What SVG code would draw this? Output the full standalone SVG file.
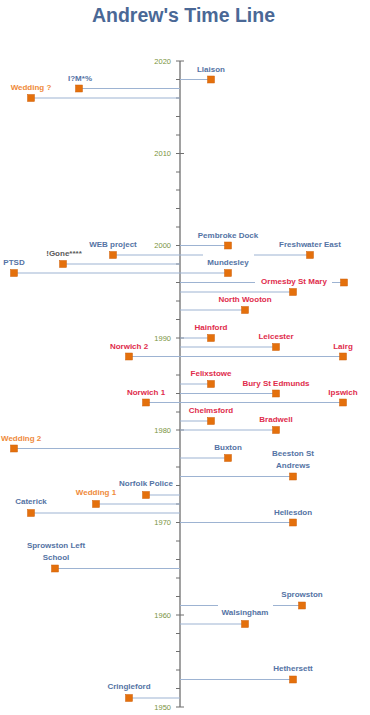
<svg xmlns="http://www.w3.org/2000/svg" width="370" height="715" viewBox="0 0 370 715">
<style>
.title{font-family:"Liberation Sans",Arial,sans-serif;font-weight:bold;font-size:19.5px;fill:#4a6896;text-anchor:middle}
.yr{font-family:"Liberation Sans",Arial,sans-serif;font-size:7.5px;fill:#7a9440;text-anchor:end}
.lb{font-family:"Liberation Sans",Arial,sans-serif;font-weight:bold;font-size:8px;text-anchor:middle}
.b{fill:#5473a4}.r{fill:#e02c4c}.o{fill:#ef8a3a}.g{fill:#5a5a5a}
.mk{fill:#e4700c;stroke:#d0600a;stroke-width:0.5}
.cn{stroke:#9db3d2;stroke-width:1;fill:none}
.ax{stroke:#6f6f6f;stroke-width:1.3;fill:none}
.tk{stroke:#6f6f6f;stroke-width:1;fill:none}
.bg{fill:#ffffff}
</style>
<rect width="370" height="715" fill="#ffffff"/>
<text class="title" x="183.5" y="22">Andrew's Time Line</text>

<g id="axis">
<line class="ax" x1="180" y1="61" x2="180" y2="707"/>
<path class="tk" d="M176 61H184M176 153.5H184M176 245.5H184M176 338H184M176 430H184M176 522.5H184M176 615H184M176 707H184"/>
<path class="tk" d="M176 79.5H180M176 98H180M176 116.5H180M176 135H180M176 172H180M176 190H180M176 208.5H180M176 227H180M176 264H180M176 282.5H180M176 301H180M176 319.5H180M176 356.5H180M176 375H180M176 393.5H180M176 412H180M176 448.5H180M176 467H180M176 485.5H180M176 504H180M176 541H180M176 559.5H180M176 578H180M176 596.5H180M176 633.5H180M176 651.5H180M176 670H180M176 688.5H180"/>
<text class="yr" x="171" y="63.5">2020</text>
<text class="yr" x="171" y="156">2010</text>
<text class="yr" x="171" y="248">2000</text>
<text class="yr" x="171" y="340.5">1990</text>
<text class="yr" x="171" y="432.5">1980</text>
<text class="yr" x="171" y="525">1970</text>
<text class="yr" x="171" y="617.5">1960</text>
<text class="yr" x="171" y="709.5">1950</text>
</g>

<g id="connectors">
<path class="cn" d="M180 79.5H211M180 88.5H79M180 98H31M180 245.5H228M180 255H113M180 255H310M180 264H63M180 273H14M180 273H228M180 282.5H344M180 292H293M180 310H245M180 338H211M180 347H276M180 356.5H343M180 356.5H129M180 384H211M180 393.5H276M180 402.5H343M180 402.5H146M180 421H211M180 430H276M180 448.5H14M180 458H228M180 476.5H293M180 495H146M180 504H96M180 513H31M180 522.5H293M180 568.5H55M180 605.5H302M180 624H245M180 679.5H293M180 698H129"/>
</g>

<g id="n-llaison"><rect class="mk" x="207.5" y="76" width="7" height="7"/><text class="lb b" x="211" y="71.5">Llaison</text></g>
<g id="n-imx"><rect class="mk" x="75.5" y="85" width="7" height="7"/><text class="lb b" x="80" y="80.5">I?M*%</text></g>
<g id="n-wedding-q"><rect class="mk" x="27.5" y="94.5" width="7" height="7"/><text class="lb o" x="31" y="90">Wedding ?</text></g>
<g id="n-pembroke"><rect class="mk" x="224.5" y="242" width="7" height="7"/><text class="lb b" x="228" y="237.5">Pembroke Dock</text></g>
<g id="n-web"><rect class="mk" x="109.5" y="251.5" width="7" height="7"/><text class="lb b" x="113" y="247">WEB project</text></g>
<g id="n-freshwater"><rect class="mk" x="306.5" y="251.5" width="7" height="7"/><text class="lb b" x="310" y="247">Freshwater East</text></g>
<g id="n-gone"><rect class="mk" x="59.5" y="260.5" width="7" height="7"/><text class="lb g" x="64" y="256">!Gone****</text></g>
<g id="n-ptsd"><rect class="mk" x="10.5" y="269.5" width="7" height="7"/><text class="lb b" x="14" y="265">PTSD</text></g>
<g id="n-mundesley"><rect class="bg" x="203" y="252" width="51" height="16"/><rect class="mk" x="224.5" y="269.5" width="7" height="7"/><text class="lb b" x="228" y="265">Mundesley</text></g>
<g id="n-unlabelled"><rect class="mk" x="340.5" y="279" width="7" height="7"/></g>
<g id="n-ormesby"><rect class="bg" x="255" y="275" width="77" height="13"/><rect class="mk" x="289.5" y="288.5" width="7" height="7"/><text class="lb r" x="294" y="284">Ormesby St Mary</text></g>
<g id="n-northwooton"><rect class="mk" x="241.5" y="306.5" width="7" height="7"/><text class="lb r" x="245" y="302">North Wooton</text></g>
<g id="n-hainford"><rect class="mk" x="207.5" y="334.5" width="7" height="7"/><text class="lb r" x="211" y="330">Hainford</text></g>
<g id="n-leicester"><rect class="mk" x="272.5" y="343.5" width="7" height="7"/><text class="lb r" x="276" y="339">Leicester</text></g>
<g id="n-lairg"><rect class="mk" x="339.5" y="353" width="7" height="7"/><text class="lb r" x="343" y="348.5">Lairg</text></g>
<g id="n-norwich2"><rect class="mk" x="125.5" y="353" width="7" height="7"/><text class="lb r" x="129" y="348.5">Norwich 2</text></g>
<g id="n-felixstowe"><rect class="mk" x="207.5" y="380.5" width="7" height="7"/><text class="lb r" x="211" y="376">Felixstowe</text></g>
<g id="n-bury"><rect class="mk" x="272.5" y="390" width="7" height="7"/><text class="lb r" x="276" y="385.5">Bury St Edmunds</text></g>
<g id="n-ipswich"><rect class="mk" x="339.5" y="399" width="7" height="7"/><text class="lb r" x="343" y="394.5">Ipswich</text></g>
<g id="n-norwich1"><rect class="mk" x="142.5" y="399" width="7" height="7"/><text class="lb r" x="146" y="394.5">Norwich 1</text></g>
<g id="n-chelmsford"><rect class="mk" x="207.5" y="417.5" width="7" height="7"/><text class="lb r" x="211" y="413">Chelmsford</text></g>
<g id="n-bradwell"><rect class="mk" x="272.5" y="426.5" width="7" height="7"/><text class="lb r" x="276" y="422">Bradwell</text></g>
<g id="n-wedding2"><rect class="mk" x="10.5" y="445" width="7" height="7"/><text class="lb o" x="1" y="440.5" style="text-anchor:start">Wedding 2</text></g>
<g id="n-buxton"><rect class="mk" x="224.5" y="454.5" width="7" height="7"/><text class="lb b" x="228" y="450">Buxton</text></g>
<g id="n-beeston"><rect class="mk" x="289.5" y="473" width="7" height="7"/><text class="lb b" x="293" y="455.5">Beeston St</text><text class="lb b" x="293" y="467.5">Andrews</text></g>
<g id="n-norfolkpolice"><rect class="mk" x="142.5" y="491.5" width="7" height="7"/><text class="lb b" x="146" y="485.5">Norfolk Police</text></g>
<g id="n-wedding1"><rect class="mk" x="92.5" y="500.5" width="7" height="7"/><text class="lb o" x="96" y="495">Wedding 1</text></g>
<g id="n-caterick"><rect class="mk" x="27.5" y="509.5" width="7" height="7"/><text class="lb b" x="31" y="504">Caterick</text></g>
<g id="n-hellesdon"><rect class="mk" x="289.5" y="519" width="7" height="7"/><text class="lb b" x="293" y="514.5">Hellesdon</text></g>
<g id="n-sprowstonleft"><rect class="mk" x="51.5" y="565" width="7" height="7"/><text class="lb b" x="56" y="548">Sprowston Left</text><text class="lb b" x="56" y="560">School</text></g>
<g id="n-sprowston"><rect class="mk" x="298.5" y="602" width="7" height="7"/><text class="lb b" x="302" y="597">Sprowston</text></g>
<g id="n-walsingham"><rect class="bg" x="218" y="602.5" width="55" height="14"/><rect class="mk" x="241.5" y="620.5" width="7" height="7"/><text class="lb b" x="245" y="615">Walsingham</text></g>
<g id="n-hethersett"><rect class="mk" x="289.5" y="676" width="7" height="7"/><text class="lb b" x="293" y="671">Hethersett</text></g>
<g id="n-cringleford"><rect class="mk" x="125.5" y="694.5" width="7" height="7"/><text class="lb b" x="129" y="689">Cringleford</text></g>
</svg>
